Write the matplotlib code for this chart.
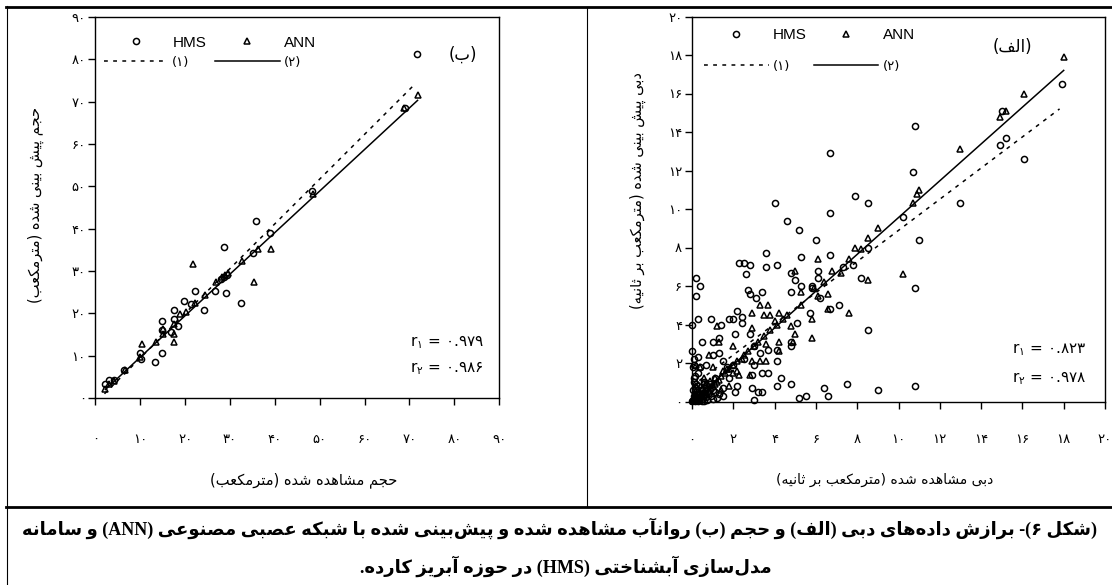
import re
import numpy as np
import matplotlib
matplotlib.use('Agg')
import matplotlib.pyplot as plt
from matplotlib.lines import Line2D

###############################################################################
# data

# (ب) volume, m3  -- HMS
vol_hms_obs = [71.7, 68.9, 48.2, 35.8, 38.9, 28.6, 35.2, 22.1, 26.7, 29.0, 28.6, 32.4,
               24.3, 19.8, 21.4, 17.4, 14.8, 17.4, 18.5, 14.8, 16.9, 14.8, 13.2, 10.0,
               10.1, 6.4, 4.1, 2.2, 3.0, 27.9, 29.3]
vol_hms_sim = [81.3, 68.6, 48.8, 41.9, 39.0, 35.7, 34.3, 25.2, 25.2, 24.8, 28.5, 22.5,
               20.7, 22.9, 22.1, 20.7, 18.2, 18.6, 17.0, 16.1, 15.7, 10.6, 8.5, 10.6,
               9.3, 6.7, 4.2, 3.4, 4.3, 28.0, 29.0]
# (ب) volume -- ANN
vol_ann_obs = [72.0, 68.7, 48.6, 36.2, 39.2, 32.7, 21.7, 35.4, 26.8, 28.8, 24.4, 22.2,
               20.1, 18.9, 17.5, 17.5, 17.5, 15.1, 15.1, 13.5, 10.3, 10.0, 6.5, 4.1,
               2.2, 3.0, 29.5, 28.2]
vol_ann_sim = [71.6, 68.4, 48.2, 35.3, 35.3, 32.4, 31.6, 27.4, 27.4, 29.0, 24.3, 22.4,
               20.2, 19.8, 17.5, 15.1, 13.2, 15.1, 16.3, 13.2, 12.8, 9.7, 6.7, 3.9,
               2.1, 3.2, 29.5, 28.6]
# fitted lines (1) HMS, (2) ANN
vol_fit1_x = [2.0, 70.6]
vol_fit1_y = [1.0, 73.5]
vol_fit2_x = [2.2, 71.8]
vol_fit2_y = [2.0, 70.3]

# (الف) discharge, m3/s -- HMS
q_hms_obs = [17.9, 10.8, 6.7, 10.7, 7.9, 8.5, 4.0, 6.7, 4.6, 5.2, 10.2, 13.0, 11.0, 6.0,
             3.6, 5.3, 6.7, 8.5, 7.8, 7.3, 2.3, 2.5, 2.8, 2.6, 3.6, 4.1, 4.8, 5.0, 6.1,
             6.1, 8.2, 10.8, 14.9, 15.2, 15.0, 16.1, 0.2, 0.4, 0.2, 4.8, 5.3, 5.8, 3.4,
             2.8, 3.1,
             8.5, 7.1, 6.7, 5.1, 4.8, 4.1, 4.3, 4.8, 4.1, 6.4, 7.5, 9.0, 10.8, 5.2, 5.5,
             6.6, 3.0, 3.2, 3.4, 2.9, 2.2, 2.2, 1.8, 0.9, 0.3, 0.0, 0.5, 1.4, 2.0, 2.4,
             2.4, 2.1, 2.8, 1.3, 1.0, 0.0, 0.3, 0.1, 0.4, 0.7, 1.0, 1.3, 1.5, 1.7, 2.0,
             2.5, 3.0, 3.4, 3.7, 2.9, 1.8, 2.1, 1.5, 1.0, 0.6, 0.1, 0.2, 0.5, 1.1, 3.3,
             3.7, 4.1, 4.8, 3.0, 5.7, 6.2, 5.8, 2.7,
             0.05, 0.1, 0.15, 0.2, 0.25, 0.3, 0.35, 0.4, 0.45, 0.5, 0.55, 0.6, 0.65,
             0.7, 0.75, 0.8, 0.9, 1.0, 1.1, 1.2, 0.05, 0.1, 0.15, 0.2, 0.3, 0.05, 0.12,
             0.6, 0.85, 1.3, 1.5, 0.02, 0.08, 0.18, 0.28, 0.38, 0.48, 0.58]
q_hms_sim = [16.5, 14.3, 12.9, 11.9, 10.7, 10.3, 10.3, 9.8, 9.4, 8.9, 9.6, 10.3, 8.4, 8.4,
             7.7, 7.5, 7.6, 8.0, 7.1, 7.0, 7.2, 7.2, 7.1, 6.6, 7.0, 7.1, 6.7, 6.3, 6.8,
             6.4, 6.4, 5.9, 13.3, 13.7, 15.1, 12.6, 6.4, 6.0, 5.5, 5.7, 6.0, 5.9, 5.7,
             5.6, 5.4,
             3.7, 5.0, 4.8, 4.1, 3.1, 2.1, 1.2, 0.9, 0.8, 0.7, 0.9, 0.6, 0.8, 0.2, 0.3,
             0.3, 0.1, 0.5, 0.5, 0.7, 0.8, 4.7, 4.3, 4.3, 4.3, 4.0, 3.1, 4.0, 4.3, 4.4,
             4.1, 3.5, 3.5, 3.3, 3.1, 2.6, 2.3, 1.9, 1.8, 1.9, 2.4, 2.5, 2.1, 1.8, 1.9,
             2.2, 1.9, 1.5, 1.5, 1.4, 1.2, 0.5, 0.3, 0.6, 0.9, 1.2, 0.7, 0.4, 1.2, 2.5,
             2.7, 2.7, 2.9, 2.9, 4.6, 5.4, 6.0, 5.8,
             0.1, 0.3, 0.05, 0.5, 0.2, 0.8, 0.1, 0.4, 0.6, 0.15, 0.35, 0.05, 0.55,
             0.25, 0.1, 0.45, 0.3, 0.15, 0.5, 0.2, 0.6, 1.0, 1.3, 0.9, 1.5, 1.8, 2.2,
             1.0, 0.9, 0.4, 0.7, 0.02, 0.15, 0.22, 0.05, 0.18, 0.02, 0.3]
# (الف) discharge -- ANN
q_ann_obs = [18.0, 16.1, 15.2, 14.9, 13.0, 11.0, 10.9, 10.7, 9.0, 8.5, 7.9, 8.2, 6.1, 7.6,
             6.8, 7.2, 5.0, 8.5, 10.2, 6.4, 5.3, 6.6, 5.9,
             7.6, 5.8, 5.8, 6.6, 6.1, 5.3, 4.9, 5.0, 4.8, 4.2, 3.8, 3.5, 3.3, 3.7, 4.0,
             4.2, 4.2, 3.6, 2.9, 2.9, 1.2, 1.3, 2.0, 2.4, 2.8, 2.9, 3.3, 3.6, 2.3, 2.2,
             2.0, 1.7, 1.5, 0.2, 0.4, 1.0, 0.8, 1.1, 0.6, 0.2, 0.8, 1.4, 1.8,
             0.05, 0.1, 0.2, 0.25, 0.3, 0.4, 0.45, 0.5, 0.6, 0.7, 0.8, 0.9, 1.0, 1.1,
             1.2, 1.3, 0.35, 0.15, 0.55, 0.65, 0.75, 0.85, 1.4, 1.6, 1.8, 2.0, 2.2, 2.5,
             2.7, 3.0, 3.2, 3.5, 3.8, 4.1, 4.4, 4.6]
q_ann_sim = [17.9, 16.0, 15.1, 14.8, 13.1, 11.0, 10.8, 10.3, 9.0, 8.5, 8.0, 7.9, 7.4, 7.4,
             6.8, 6.7, 6.8, 6.3, 6.6, 6.2, 5.7, 5.6, 5.9,
             4.6, 3.3, 4.3, 4.8, 5.5, 5.0, 3.1, 3.5, 3.9, 4.6, 4.5, 4.5, 5.0, 5.0, 4.2,
             3.1, 2.6, 3.0, 3.8, 4.6, 3.9, 3.1, 2.9, 2.2, 1.4, 2.1, 2.1, 2.1, 1.4, 1.6,
             1.5, 1.7, 1.6, 1.9, 1.8, 1.8, 2.4, 1.2, 1.2, 0.8, 0.5, 0.6, 0.8,
             0.05, 0.2, 0.1, 0.35, 0.25, 0.15, 0.4, 0.3, 0.5, 0.45, 0.6, 0.7, 0.8, 0.9,
             1.0, 1.1, 0.5, 0.4, 0.7, 0.85, 0.95, 1.05, 1.3, 1.5, 1.7, 1.9, 2.1, 2.4,
             2.6, 2.9, 3.1, 3.4, 3.7, 4.0, 4.3, 4.5]
q_fit1_x = [0.0, 17.8]
q_fit1_y = [0.8, 15.2]
q_fit2_x = [0.0, 18.0]
q_fit2_y = [0.0, 17.2]

vol_ticks = [0, 10, 20, 30, 40, 50, 60, 70, 80, 90]
q_ticks = [0, 2, 4, 6, 8, 10, 12, 14, 16, 18, 20]

r_vol = ['۰.۹۷۹', '۰.۹۸۶']
r_q = ['۰.۸۲۳', '۰.۹۷۸']

caption_1 = '(شکل ۶)- برازش داده‌های دبی (الف) و حجم (ب) روانآب مشاهده شده و پیش‌بینی شده با شبکه عصبی مصنوعی (ANN) و سامانه'
caption_2 = 'مدل‌سازی آبشناختی (HMS) در حوزه آبریز کارده.'

###############################################################################
# persian text: matplotlib does no shaping / bidi, so do it by hand

FORMS = {  # isolated, final, (initial, medial)
    'ا': '\ufe8d\ufe8e', 'آ': '\ufe81\ufe82',
    'ب': '\ufe8f\ufe90\ufe91\ufe92', 'پ': '\ufb56\ufb57\ufb58\ufb59',
    'ت': '\ufe95\ufe96\ufe97\ufe98', 'ث': '\ufe99\ufe9a\ufe9b\ufe9c',
    'ج': '\ufe9d\ufe9e\ufe9f\ufea0', 'چ': '\ufb7a\ufb7b\ufb7c\ufb7d',
    'ح': '\ufea1\ufea2\ufea3\ufea4', 'خ': '\ufea5\ufea6\ufea7\ufea8',
    'د': '\ufea9\ufeaa', 'ذ': '\ufeab\ufeac', 'ر': '\ufead\ufeae',
    'ز': '\ufeaf\ufeb0', 'ژ': '\ufb8a\ufb8b',
    'س': '\ufeb1\ufeb2\ufeb3\ufeb4', 'ش': '\ufeb5\ufeb6\ufeb7\ufeb8',
    'ص': '\ufeb9\ufeba\ufebb\ufebc', 'ض': '\ufebd\ufebe\ufebf\ufec0',
    'ط': '\ufec1\ufec2\ufec3\ufec4', 'ظ': '\ufec5\ufec6\ufec7\ufec8',
    'ع': '\ufec9\ufeca\ufecb\ufecc', 'غ': '\ufecd\ufece\ufecf\ufed0',
    'ف': '\ufed1\ufed2\ufed3\ufed4', 'ق': '\ufed5\ufed6\ufed7\ufed8',
    'ک': '\ufb8e\ufb8f\ufb90\ufb91', 'گ': '\ufb92\ufb93\ufb94\ufb95',
    'ل': '\ufedd\ufede\ufedf\ufee0', 'م': '\ufee1\ufee2\ufee3\ufee4',
    'ن': '\ufee5\ufee6\ufee7\ufee8', 'ه': '\ufee9\ufeea\ufeeb\ufeec',
    'و': '\ufeed\ufeee', 'ی': '\ufbfc\ufbfd\ufbfe\ufbff',
}


def shape(txt):
    txt = txt.replace('\u064a', '\u06cc').replace('\u0643', '\u06a9')
    out = []
    for i, ch in enumerate(txt):
        f = FORMS.get(ch)
        if f is None:
            out.append(ch)
            continue
        prev = txt[i - 1] if i > 0 else ''
        nxt = txt[i + 1] if i + 1 < len(txt) else ''
        j_prev = prev in FORMS and len(FORMS[prev]) == 4
        j_next = len(f) == 4 and nxt in FORMS
        if j_prev and j_next:
            out.append(f[3])
        elif j_prev:
            out.append(f[1])
        elif j_next:
            out.append(f[2])
        else:
            out.append(f[0])
    return ''.join(out).replace('\u200c', '')


def rtl(txt):
    s = shape(txt)[::-1]
    s = re.sub('[A-Za-z0-9\u06f0-\u06f9.]+', lambda m: m.group(0)[::-1], s)
    return s.translate(str.maketrans('()', ')('))


fa = str.maketrans('0123456789', '۰۱۲۳۴۵۶۷۸۹')

###############################################################################
# figure

W, H = 1112, 585
fig = plt.figure(figsize=(W / 100, H / 100), dpi=100)


def box(x0, x1, y_top, y_bot):
    return [x0 / W, 1 - y_bot / H, (x1 - x0) / W, (y_bot - y_top) / H]


ax_b = fig.add_axes(box(95.5, 499.2, 17, 398))
ax_a = fig.add_axes(box(692, 1105, 16.5, 401.5))

fa_font = ['DejaVu Sans']
lat_font = ['Liberation Sans', 'DejaVu Sans']


def draw_panel(ax, h_x, h_y, a_x, a_y, f1x, f1y, f2x, f2y, ticks, lim, xpad):
    h_hms, = ax.plot(h_x, h_y, 'o', ms=4.4, mfc='none', mec='k', mew=1.1, clip_on=False, zorder=3)
    h_ann, = ax.plot(a_x, a_y, '^', ms=4.9, mfc='none', mec='k', mew=1.1, clip_on=False, zorder=3)
    l_1, = ax.plot(f1x, f1y, color='k', lw=1.1, ls=(0, (2.5, 3.5)), zorder=4)
    l_2, = ax.plot(f2x, f2y, color='k', lw=1.1, zorder=4)
    ax.set_xlim(lim)
    ax.set_ylim(lim)
    ax.set_xticks(ticks)
    ax.set_yticks(ticks)
    ax.set_xticklabels([str(t).translate(fa) for t in ticks], family=fa_font, fontsize=9.5)
    ax.set_yticklabels([str(t).translate(fa) for t in ticks], family=fa_font, fontsize=9.5)
    ax.tick_params(axis='both', direction='out', length=5, width=1, color='k')
    ax.tick_params(axis='x', pad=xpad)
    ax.tick_params(axis='y', pad=2)
    for sp in ax.spines.values():
        sp.set_linewidth(1.0)
        sp.set_color('k')
    return h_hms, h_ann, l_1, l_2


def add_legend(ax, handles, anchor, lspace, cspace):
    leg = ax.legend(handles, ['HMS', '(۱)', 'ANN', '(۲)'], ncol=2, loc='upper left',
                    bbox_to_anchor=anchor, frameon=False, numpoints=1,
                    handlelength=4.2, handletextpad=0.3, columnspacing=cspace,
                    labelspacing=lspace, borderpad=0, borderaxespad=0,
                    prop={'family': lat_font, 'size': 11})
    for t in leg.get_texts()[1::2]:
        t.set_fontsize(9.5)
        t.set_family(fa_font)
    return leg


def add_r(ax, x, y1, y2, vals):
    ax.text(x, y1, 'r$_{۱}$ = ' + vals[0], transform=ax.transAxes, ha='right', va='center',
            family=fa_font, fontsize=11)
    ax.text(x, y2, 'r$_{۲}$ = ' + vals[1], transform=ax.transAxes, ha='right', va='center',
            family=fa_font, fontsize=11)


# (ب) volume
hb = draw_panel(ax_b, vol_hms_obs, vol_hms_sim, vol_ann_obs, vol_ann_sim,
                vol_fit1_x, vol_fit1_y, vol_fit2_x, vol_fit2_y, vol_ticks, (0, 90), 20)
add_legend(ax_b, [hb[0], hb[2], hb[1], hb[3]], (0.02, 0.951), 0.4, 0.6)
add_r(ax_b, 0.962, 0.147, 0.079, r_vol)
ax_b.text(0.91, 0.90, rtl('(ب)'), transform=ax_b.transAxes, ha='center', va='center',
          family=fa_font, fontsize=12)
ax_b.set_xlabel(rtl('حجم مشاهده شده (مترمکعب)'), family=fa_font, fontsize=10.5, va='center')
ax_b.xaxis.set_label_coords(0.516, -0.215)
ax_b.set_ylabel(rtl('حجم پیش بینی شده (مترمکعب)'), family=fa_font, fontsize=10.5, va='center')
ax_b.yaxis.set_label_coords(-0.148, 0.507)

# (الف) discharge
ha_ = draw_panel(ax_a, q_hms_obs, q_hms_sim, q_ann_obs, q_ann_sim,
                 q_fit1_x, q_fit1_y, q_fit2_x, q_fit2_y, q_ticks, (0, 20), 18)
add_legend(ax_a, [ha_[0], ha_[2], ha_[1], ha_[3]], (0.03, 0.969), 1.1, 0.45)
add_r(ax_a, 0.954, 0.134, 0.061, r_q)
ax_a.text(0.775, 0.921, rtl('(الف)'), transform=ax_a.transAxes, ha='center', va='center',
          family=fa_font, fontsize=12)
ax_a.set_xlabel(rtl('دبی مشاهده شده (مترمکعب بر ثانیه)'), family=fa_font, fontsize=10, va='center')
ax_a.xaxis.set_label_coords(0.467, -0.204)
ax_a.set_ylabel(rtl('دبی پیش بینی شده (مترمکعب بر ثانیه)'), family=fa_font, fontsize=10.5, va='center')
ax_a.yaxis.set_label_coords(-0.130, 0.549)


# table frame around the two panels
def seg(x0, y0, x1, y1, lw):
    fig.add_artist(Line2D([x0 / W, x1 / W], [1 - y0 / H, 1 - y1 / H], color='k', lw=lw,
                          transform=fig.transFigure))


seg(6, 7, W, 7, 2.0)
seg(6, 507, W, 507, 2.0)
seg(6.5, 6, 6.5, H, 0.8)
seg(587, 7, 587, 507, 0.8)

# caption
cap_font = ['Liberation Serif', 'DejaVu Sans']
fig.text(560 / W, 1 - 528 / H, rtl(caption_1), ha='center', va='center', fontsize=13,
         fontweight='bold', family=cap_font)
fig.text(566 / W, 1 - 566 / H, rtl(caption_2), ha='center', va='center', fontsize=13,
         fontweight='bold', family=cap_font)

fig.savefig('out.png', dpi=100)
